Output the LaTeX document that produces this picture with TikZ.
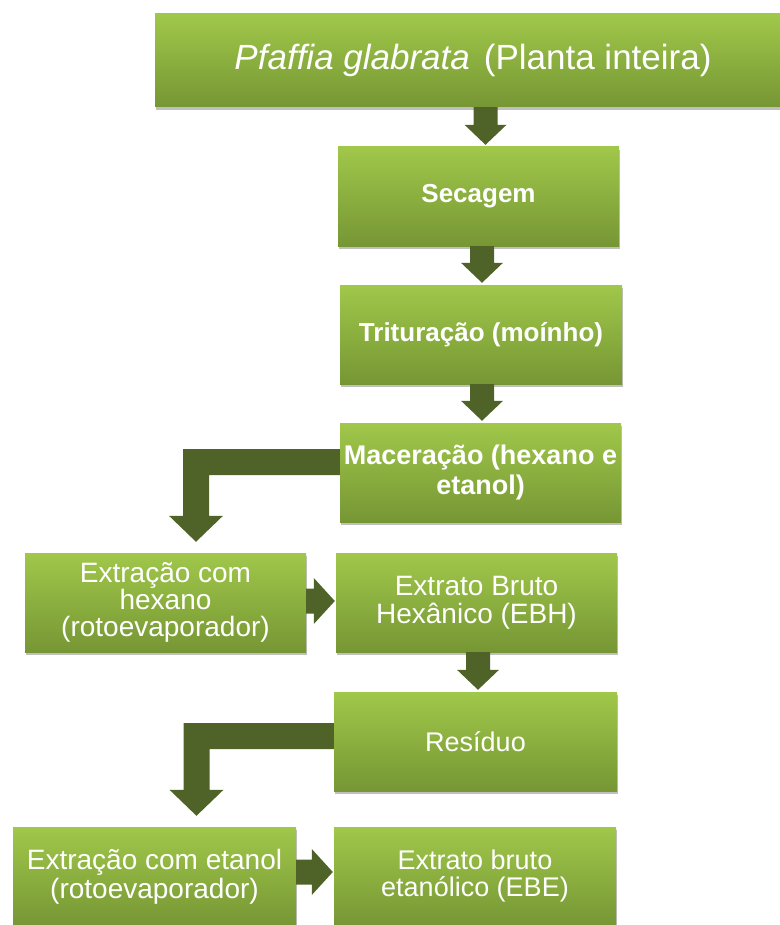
\documentclass[tikz,border=0pt]{standalone}
\usepackage{fontspec}
\setmainfont{Liberation Sans}
\usetikzlibrary{calc,shadows}
\definecolor{boxtop}{RGB}{160,200,74}
\definecolor{boxbot}{RGB}{118,150,52}
\definecolor{arrowc}{RGB}{79,98,40}
\tikzset{
  box/.style={rectangle, inner sep=0pt, align=center, text=white,
    top color=boxtop, bottom color=boxbot, draw=none,
    minimum height=99pt, minimum width=282pt,
    drop shadow={shadow xshift=1pt, shadow yshift=-3pt, opacity=0.25, fill=black}},
  fatarrow/.style={fill=arrowc, draw=none},
}
\newcommand\vfat[3]{%
  \fill[fatarrow] let \p1=(#1.south), \p2=($(#2.north)+(#3,-2)$) in
  (\x2-12pt,\y1) -- (\x2+12pt,\y1) -- (\x2+12pt,\y2+20pt) -- (\x2+21pt,\y2+20pt)
  -- (\x2,\y2) -- (\x2-21pt,\y2+20pt) -- (\x2-12pt,\y2+20pt) -- cycle;}
\newcommand\hfat[3]{%
  \fill[fatarrow] let \p1=($(#1.east)+(0,#3)$), \p2=($(#2.west)+(-1,#3)$) in
  (\x1,\y1+12.5pt) -- (\x2-21pt,\y1+12.5pt) -- (\x2-21pt,\y1+23pt) -- (\x2,\y1)
  -- (\x2-21pt,\y1-23pt) -- (\x2-21pt,\y1-12.5pt) -- (\x1,\y1-12.5pt) -- cycle;}
\newcommand\bfat[4]{%
  \fill[fatarrow] let \p1=($(#1.west)+(0,#3)$), \p2=($(#2.north)+(#4,-11)$) in
  (\x1,\y1+13pt) -- (\x2-13pt,\y1+13pt) -- (\x2-13pt,\y2+26pt) -- (\x2-27pt,\y2+26pt)
  -- (\x2,\y2) -- (\x2+27pt,\y2+26pt) -- (\x2+13pt,\y2+26pt) -- (\x2+13pt,\y1-13pt)
  -- (\x1,\y1-13pt) -- cycle;}
\begin{document}
\begin{tikzpicture}[x=1pt,y=-1pt]
\useasboundingbox (0,0) rectangle (779,925);
\node[box, minimum width=636pt, minimum height=93pt, font=\fontsize{35}{38}\selectfont]
  (top) at (473,60.5) {\textit{Pfaffia glabrata}\hspace{0.4em}(Planta inteira)};
\node[box, minimum width=281pt, font=\bfseries\fontsize{26}{30}\selectfont]
  (sec) at (478.5,196.5) {Secagem};
\node[box, font=\bfseries\fontsize{26}{30}\selectfont]
  (tri) at (481,334.5) {Trituração (moínho)};
\node[box, minimum width=281pt, font=\bfseries\fontsize{27}{30}\selectfont]
  (mac) at (480.5,472.5) {Maceração (hexano e\\etanol)};
\node[box, minimum width=281pt, font=\fontsize{28}{27}\selectfont]
  (hex) at (165.5,602.5) {Extração com\\hexano\\(rotoevaporador)};
\node[box, minimum width=281pt, font=\fontsize{28}{28}\selectfont]
  (ebh) at (476.5,602.5) {Extrato Bruto\\Hexânico (EBH)};
\node[box, minimum width=283pt, font=\fontsize{27}{30}\selectfont]
  (res) at (475.5,741.5) {Resíduo};
\node[box, minimum width=283pt, font=\fontsize{28}{29}\selectfont]
  (eta) at (154.5,876.5) {Extração com etanol\\(rotoevaporador)};
\node[box, minimum width=282pt, font=\fontsize{27}{27}\selectfont]
  (ebe) at (475,876.5) {Extrato bruto\\etanólico (EBE)};
\vfat{top}{sec}{7}
\vfat{sec}{tri}{1}
\vfat{tri}{mac}{1.5}
\vfat{ebh}{res}{2.5}
\hfat{hex}{ebh}{-1.5}
\hfat{eta}{ebe}{-4.5}
\bfat{mac}{hex}{-10.5}{30.5}
\bfat{res}{eta}{-5.5}{42}
\end{tikzpicture}
\end{document}
